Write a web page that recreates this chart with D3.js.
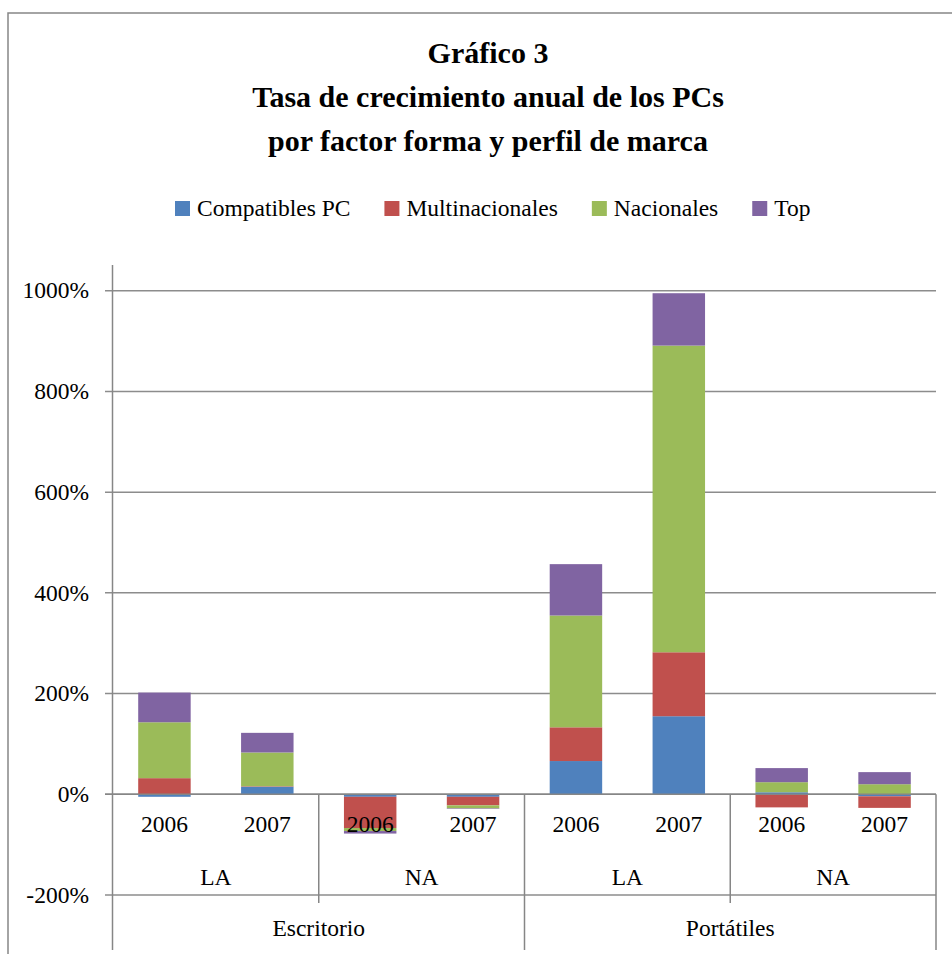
<!DOCTYPE html>
<html>
<head>
<meta charset="utf-8">
<script src="https://cdn.jsdelivr.net/npm/d3@7"></script>
<style>
  body { margin: 0; background: #fff; }
  svg { display: block; font-family: "Liberation Serif", "Times New Roman", serif; }
</style>
</head>
<body>
<svg id="chart" width="952" height="954"></svg>
<script>
"use strict";

// data (percent)
const bars = ["Esc-LA-2006", "Esc-LA-2007", "Esc-NA-2006", "Esc-NA-2007",
              "Por-LA-2006", "Por-LA-2007", "Por-NA-2006", "Por-NA-2007"];
const years = ["2006", "2007", "2006", "2007", "2006", "2007", "2006", "2007"];
const regions = ["LA", "NA", "LA", "NA"];
const formFactors = ["Escritorio", "Portátiles"];
const seriesNames = ["Compatibles PC", "Multinacionales", "Nacionales", "Top"];
const compatibles = [-5, 15, -5, -5, 66, 155, 4, -4];
const multinacionales = [32, 1, -62, -17, 67, 127, -26, -23];
const nacionales = [111, 67, -6, -6, 222, 609, 20, 20];
const topBrands = [59, 39, -5, -1, 102, 104, 28, 24];
const yTicks = [-200, 0, 200, 400, 600, 800, 1000];
const colors = ["#4F81BD", "#C0504D", "#9BBB59", "#8064A2"];
const titleLines = ["Gráfico 3", "Tasa de crecimiento anual de los PCs", "por factor forma y perfil de marca"];

(function () {
  let svg = d3.select('#chart');
  let gridColor = '#8c8c8c';

  // outer chart border (cropped on the right and bottom)
  svg.append('rect')
    .attr('x', 8).attr('y', 13)
    .attr('width', 1000).attr('height', 1000)
    .attr('fill', 'none')
    .attr('stroke', '#868686')
    .attr('stroke-width', 1.5);

  // title
  svg.append('g').selectAll('text')
    .data(titleLines)
    .enter()
    .append('text')
    .attr('x', 488)
    .attr('y', function (d, i) { return 63 + i * 44; })
    .attr('text-anchor', 'middle')
    .style('font-size', '30px')
    .style('font-weight', 'bold')
    .text(function (d) { return d; });

  let x = d3.scaleBand()
    .domain(bars)
    .range([113, 936])
    .paddingInner(0.49)
    .paddingOuter(0.245);

  let y = d3.scaleLinear()
    .domain([-200, 1000])
    .range([895, 290.7]);

  // gridlines
  svg.append('g').selectAll('line')
    .data(yTicks)
    .enter()
    .append('line')
    .attr('x1', 105).attr('x2', 936)
    .attr('y1', function (d) { return y(d); })
    .attr('y2', function (d) { return y(d); })
    .attr('stroke', gridColor)
    .attr('stroke-width', 1.5);

  // y axis labels
  svg.append('g').selectAll('text')
    .data(yTicks)
    .enter()
    .append('text')
    .attr('x', 89)
    .attr('y', function (d) { return y(d); })
    .attr('dy', '0.33em')
    .attr('text-anchor', 'end')
    .style('font-size', '23.5px')
    .text(function (d) { return d + '%'; });

  // stacked bars
  let table = bars.map(function (b, i) {
    return {
      key: b,
      "Compatibles PC": compatibles[i],
      "Multinacionales": multinacionales[i],
      "Nacionales": nacionales[i],
      "Top": topBrands[i]
    };
  });

  let stacked = d3.stack()
    .keys(seriesNames)
    .offset(d3.stackOffsetDiverging)(table);

  svg.append('g').selectAll('g')
    .data(stacked)
    .enter()
    .append('g')
    .attr('fill', function (d, i) { return colors[i]; })
    .selectAll('rect')
    .data(function (d) { return d; })
    .enter()
    .append('rect')
    .attr('x', function (d) { return x(d.data.key); })
    .attr('width', x.bandwidth())
    .attr('y', function (d) { return y(Math.max(d[0], d[1])); })
    .attr('height', function (d) { return Math.abs(y(d[0]) - y(d[1])); });

  // axis lines and category dividers
  let axes = svg.append('g')
    .attr('stroke', '#868686')
    .attr('stroke-width', 1.5);

  axes.append('line')
    .attr('x1', 112.5).attr('x2', 112.5)
    .attr('y1', 265).attr('y2', 950);

  axes.append('line')
    .attr('x1', 105).attr('x2', 936)
    .attr('y1', y(0)).attr('y2', y(0));

  let step = x.step();
  let regionEdges = [2, 4, 6, 8];
  axes.selectAll('line.region')
    .data(regionEdges)
    .enter()
    .append('line')
    .attr('class', 'region')
    .attr('x1', function (d) { return 113 + d * step; })
    .attr('x2', function (d) { return 113 + d * step; })
    .attr('y1', y(0))
    .attr('y2', function (d) { return d % 4 === 0 ? 950 : y(-200) + 8; });

  // category labels
  let labels = svg.append('g')
    .attr('text-anchor', 'middle')
    .style('font-size', '23.5px');

  labels.selectAll('text.year')
    .data(years)
    .enter()
    .append('text')
    .attr('class', 'year')
    .attr('x', function (d, i) { return x(bars[i]) + x.bandwidth() / 2; })
    .attr('y', 832)
    .text(function (d) { return d; });

  labels.selectAll('text.region')
    .data(regions)
    .enter()
    .append('text')
    .attr('class', 'region')
    .attr('x', function (d, i) { return 113 + (i * 2 + 1) * step; })
    .attr('y', 885)
    .text(function (d) { return d; });

  labels.selectAll('text.form')
    .data(formFactors)
    .enter()
    .append('text')
    .attr('class', 'form')
    .attr('x', function (d, i) { return 113 + (i * 4 + 2) * step; })
    .attr('y', 936)
    .text(function (d) { return d; });

  // legend
  let legend = svg.append('g');
  let lx = 175;
  seriesNames.forEach(function (name, i) {
    legend.append('rect')
      .attr('x', lx).attr('y', 201)
      .attr('width', 15).attr('height', 15)
      .attr('fill', colors[i]);
    let t = legend.append('text')
      .attr('x', lx + 22)
      .attr('y', 216)
      .style('font-size', '23.5px')
      .text(name);
    lx += 22 + t.node().getComputedTextLength() + 34;
  });
})();
</script>
</body>
</html>
